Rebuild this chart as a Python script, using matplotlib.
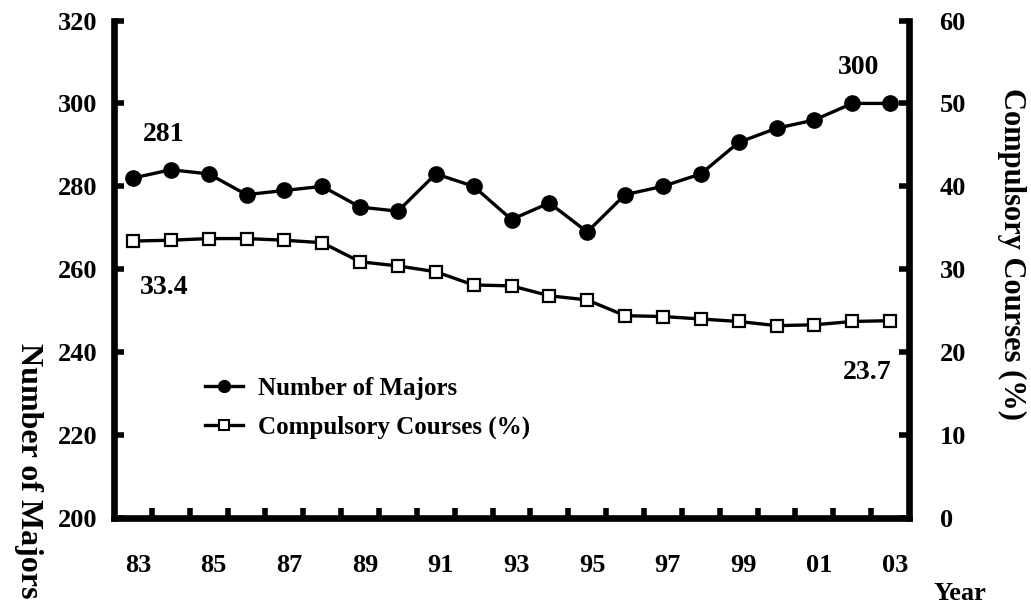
import numpy as np
import matplotlib
matplotlib.use("Agg")
import matplotlib.pyplot as plt
import matplotlib.transforms as mtrans
from matplotlib.lines import Line2D

plt.rcParams['font.family'] = ['Liberation Serif', 'DejaVu Serif']
plt.rcParams['font.weight'] = 'bold'

# data
years = ['83', '84', '85', '86', '87', '88', '89', '90', '91', '92', '93',
         '94', '95', '96', '97', '98', '99', '00', '01', '02', '03']
majors = [282, 284, 283, 278, 279, 280, 275, 274, 283, 280, 272,
          276, 269, 278, 280, 283, 290.6, 294, 296, 300, 300]
compulsory = [33.4, 33.5, 33.7, 33.7, 33.5, 33.2, 30.9, 30.4, 29.7, 28.1, 28.0,
              26.8, 26.3, 24.4, 24.3, 24.0, 23.7, 23.2, 23.3, 23.7, 23.8]

W, H = 1031, 605
fig = plt.figure(figsize=(W / 100, H / 100), dpi=100)
ax = fig.add_axes([114 / W, 1 - 518 / H, (909 - 114) / W, (518 - 20.5) / H])
ax2 = ax.twinx()

x = np.arange(len(years))
l1, = ax.plot(x, majors, color='black', lw=2.4, marker='o', ms=11, zorder=3)
l2, = ax2.plot(x, compulsory, color='black', lw=2.4, marker='s', ms=8,
               mfc='white', mec='black', mew=1.6, zorder=3)

ax.set_xlim(-0.5, len(years) - 0.5)
ax.set_ylim(200, 320)
ax2.set_ylim(0, 60)
ax.set_yticks(np.arange(200, 321, 20))
ax2.set_yticks(np.arange(0, 61, 10))

ax.set_xticks(x[::2])
ax.set_xticklabels(years[::2])
ax.set_xticks(np.arange(0.5, len(years) - 1, 1), minor=True)

lw_sp = 4.8
for a in (ax, ax2):
    a.spines['top'].set_visible(False)
    for s in ('left', 'right', 'bottom'):
        a.spines[s].set_linewidth(lw_sp)
        a.spines[s].set_capstyle('projecting')
ax.spines['right'].set_visible(False)
ax2.spines['left'].set_visible(False)
ax2.spines['bottom'].set_visible(False)

ax.tick_params(axis='x', which='major', length=0, pad=26, labelsize=19)
ax.tick_params(axis='x', which='minor', direction='in', length=7, width=4)
ax.tick_params(axis='y', direction='in', length=7, width=4, pad=12, labelsize=19)
ax2.tick_params(axis='y', direction='in', length=7, width=4, pad=22, labelsize=19)

# year labels sit a little right of the points
shift = mtrans.ScaledTranslation(5 / 100, 0, fig.dpi_scale_trans)
for lab in ax.get_xticklabels():
    lab.set_transform(lab.get_transform() + shift)

# value labels
ax.text(0.82, 292.6, '281', fontsize=20, ha='center', va='center')
ax.text(19.16, 308.7, '300', fontsize=20, ha='center', va='center')
ax2.text(0.82, 27.8, '33.4', fontsize=20, ha='center', va='center')
ax2.text(19.39, 17.6, '23.7', fontsize=20, ha='center', va='center')

h1 = Line2D([], [], color='black', lw=2.4, marker='o', ms=8.5)
h2 = Line2D([], [], color='black', lw=2.4, marker='s', ms=6.5,
            mfc='white', mec='black', mew=1.5)
fig.legend([h1, h2], ['Number of Majors', 'Compulsory Courses (%)'],
           loc='center left', bbox_to_anchor=(205 / W, 1 - 408 / H),
           frameon=False, fontsize=18, handlelength=1.5, handletextpad=0.6,
           labelspacing=0.65, borderpad=0, borderaxespad=0)

fig.text(28 / W, 1 - 471 / H, 'Number of Majors', rotation=270,
         ha='center', va='center', fontsize=23)
fig.text(1012 / W, 1 - 254 / H, 'Compulsory Courses (%)', rotation=270,
         ha='center', va='center', fontsize=22)
fig.text(960 / W, 1 - 593 / H, 'Year', ha='center', va='center', fontsize=19)

fig.savefig('out.png', dpi=100)
